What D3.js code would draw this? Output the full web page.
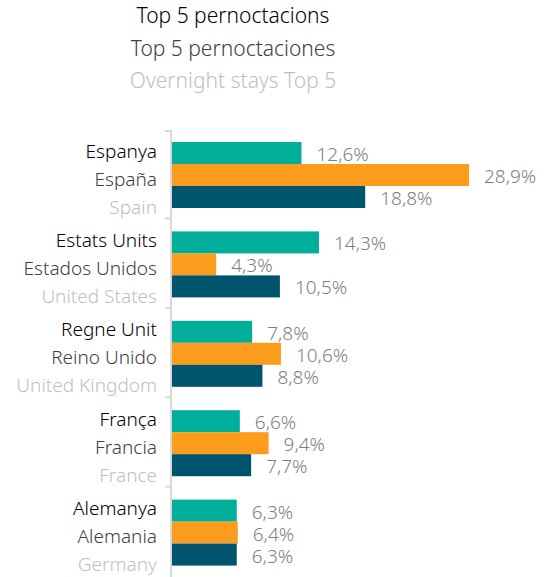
<!DOCTYPE html>
<html>
<head>
<meta charset="utf-8">
<script src="https://cdn.jsdelivr.net/npm/d3@7"></script>
<style>
  body { margin: 0; background: #fff; }
  text { font-family: "Noto Sans", "Open Sans", sans-serif; }
</style>
</head>
<body>
<script>
  // catalan / spanish / english names
  var catCa = ["Espanya", "Estats Units", "Regne Unit", "França", "Alemanya"];
  var catEs = ["España", "Estados Unidos", "Reino Unido", "Francia", "Alemania"];
  var catEn = ["Spain", "United States", "United Kingdom", "France", "Germany"];

  var titles = ["Top 5 pernoctacions", "Top 5 pernoctaciones", "Overnight stays Top 5"];

  // three series per country (percent)
  var series = ["s1", "s2", "s3"];
  var s1 = [12.6, 14.3, 7.8, 6.6, 6.3];
  var s2 = [28.9, 4.3, 10.6, 9.4, 6.4];
  var s3 = [18.8, 10.5, 8.8, 7.7, 6.3];

  var colors = ["#00ae9a", "#fb9c1c", "#00546e"];
  var textColors = ["#000000", "#404040", "#bfbfbf"];
  var weights = [350, 300, 300];

  var width = 550, height = 577;

  var svg = d3.select("body").append("svg")
    .attr("width", width)
    .attr("height", height);

  // titles
  svg.selectAll("text.title")
    .data(titles)
    .enter().append("text")
    .attr("class", "title")
    .attr("x", 233)
    .attr("y", function(d, i) { return 23 + i * 32.5; })
    .attr("text-anchor", "middle")
    .style("font-size", "21px")
    .style("font-weight", function(d, i) { return weights[i]; })
    .attr("fill", function(d, i) { return textColors[i]; })
    .text(function(d) { return d; });

  var x = d3.scaleLinear().domain([0, 28.9]).range([172, 469]);

  var y0 = d3.scaleBand().domain(catCa).range([130, 577]);
  var y1 = d3.scaleBand().domain(series).range([12, 78]);

  // axis line with ticks at group boundaries
  var ax = svg.append("g");
  ax.append("line")
    .attr("x1", 171).attr("x2", 171)
    .attr("y1", 130).attr("y2", height)
    .attr("stroke", "#d9d9d9").attr("stroke-width", 2);
  ax.selectAll("line.tick")
    .data(catCa)
    .enter().append("line")
    .attr("class", "tick")
    .attr("x1", 165).attr("x2", 171)
    .attr("y1", function(d) { return Math.max(131, y0(d) - 1); })
    .attr("y2", function(d) { return Math.max(131, y0(d) - 1); })
    .attr("stroke", "#d9d9d9").attr("stroke-width", 2);

  var data = catCa.map(function(c, i) {
    return { cat: c, names: [catCa[i], catEs[i], catEn[i]], values: [s1[i], s2[i], s3[i]] };
  });

  var groups = svg.selectAll("g.grp")
    .data(data)
    .enter().append("g")
    .attr("class", "grp")
    .attr("transform", function(d) { return "translate(0," + y0(d.cat) + ")"; });

  // category labels (3 languages)
  groups.selectAll("text.cat")
    .data(function(d) { return d.names; })
    .enter().append("text")
    .attr("class", "cat")
    .attr("x", 157)
    .attr("y", function(d, i) { return 27.5 + i * 28; })
    .attr("text-anchor", "end")
    .style("font-size", "19px")
    .style("font-weight", function(d, i) { return weights[i]; })
    .attr("fill", function(d, i) { return textColors[i]; })
    .text(function(d) { return d; });

  groups.selectAll("rect")
    .data(function(d) { return d.values; })
    .enter().append("rect")
    .attr("x", x(0))
    .attr("y", function(d, i) { return y1(series[i]); })
    .attr("width", function(d) { return x(d) - x(0); })
    .attr("height", y1.bandwidth())
    .attr("fill", function(d, i) { return colors[i]; });

  var fmt = function(v) { return v.toFixed(1).replace(".", ",") + "%"; };

  groups.selectAll("text.val")
    .data(function(d) { return d.values; })
    .enter().append("text")
    .attr("class", "val")
    .attr("x", function(d) { return x(d) + 15; })
    .attr("y", function(d, i) { return y1(series[i]) + y1.bandwidth() / 2 + 8; })
    .style("font-size", "19px")
    .style("font-weight", 300)
    .attr("fill", "#7f7f7f")
    .text(fmt);
</script>
</body>
</html>
